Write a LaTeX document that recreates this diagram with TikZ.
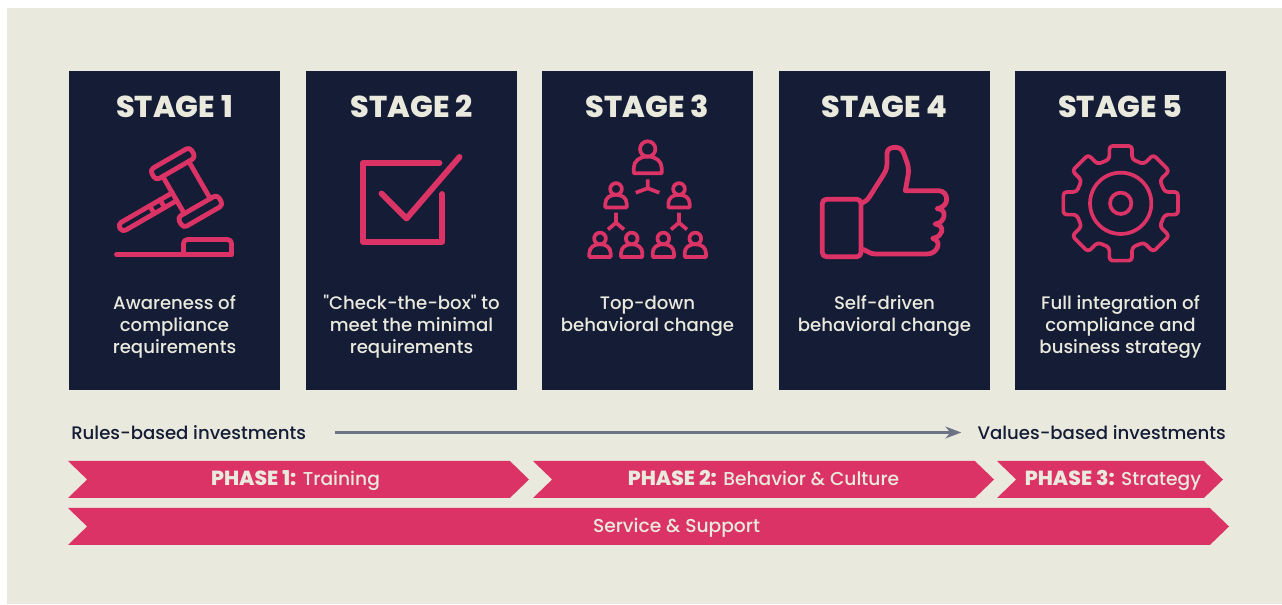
\documentclass[tikz,border=0pt]{standalone}
\usepackage{fontspec}
\setmainfont{Poppins}
\newfontfamily\mediumfont{Poppins Medium}
\newfontfamily\heavyfont{Poppins ExtraBold}
\usetikzlibrary{positioning}
\usetikzlibrary{arrows.meta}
\usetikzlibrary{shapes.symbols}

\definecolor{paper}{HTML}{E9E9DD}
\definecolor{navy}{HTML}{141C36}
\definecolor{rose}{HTML}{DC3366}
\definecolor{slate}{HTML}{6C7385}

\tikzset{
    stagebox/.style={fill=navy, minimum width=158.25pt, minimum height=239.25pt, inner sep=0pt},
    stagetitle/.style={text=paper, font=\fontsize{22.6}{24}\heavyfont},
    stagetext/.style={text=paper, align=center, anchor=north, inner sep=0pt, font=\fontsize{13.6}{16.5}\mediumfont},
    icon/.style={draw=rose, line width=3.6pt, line join=round, line cap=round},
    thinicon/.style={draw=rose, line width=2.8pt, line join=round},
    ranklabel/.style={text=navy, inner sep=0pt, font=\fontsize{13.6}{16}\mediumfont},
    ribbon/.style={shape=signal, signal from=west, signal to=east, signal pointer angle=88,
        fill=rose, text=paper, inner sep=0pt, minimum height=27.75pt, text height=11.5pt, text depth=3pt,
        font=\fontsize{14}{16}\mediumfont},
}

\newcommand{\personicon}[3]{
    \begin{scope}[shift={(#1,#2)},scale=#3]
        \draw[thinicon] (0,0) circle (7.7);
        \draw[thinicon] (-14,24.3) -- (14,24.3) -- (14,19) .. controls (14,12) and (8,7.5) .. (0,7.5)
            .. controls (-8,7.5) and (-14,12) .. (-14,19) -- cycle;
    \end{scope}
}
\newcommand{\phasehead}[1]{{\fontsize{15.3}{16}\heavyfont #1}}

\begin{document}
\begin{tikzpicture}[x=0.75pt,y=-0.75pt]
        \useasboundingbox (0,0) rectangle (1282,605);
        \fill[paper] (7,8) rectangle (1282,604);

        \foreach \name/\xpos in {1/174.5, 2/411.5, 3/647.5, 4/884.5, 5/1120.5}{
            \node[stagebox] (stage\name) at (\xpos,230.5) {};
            \node[stagetitle] (title\name) at (\xpos,106.5) {STAGE \name};
        }

        \node[stagetext] (text1) at (174.5,295) {Awareness of\\compliance\\requirements};
        \node[stagetext] (text2) at (411.5,295) {"Check-the-box" to\\meet the minimal\\requirements};
        \node[stagetext] (text3) at (647.5,295.5) {Top-down\\behavioral change};
        \node[stagetext] (text4) at (884.5,295) {Self-driven\\behavioral change};
        \node[stagetext] (text5) at (1120.5,295) {Full integration of\\compliance and\\business strategy};

        \begin{scope}[shift={(186.5,187.5)},rotate=30]
            \draw[icon, rounded corners=3pt] (-23,-33.5) rectangle (23,-21.5);
            \draw[icon, rounded corners=3pt] (-23,21.5) rectangle (23,33.5);
            \draw[icon] (-15,-21.5) -- (-15,21.5);
            \draw[icon] (15,-21.5) -- (15,21.5);
            \draw[icon, rounded corners=3pt] (-15,-2.5) -- (-78,-2.5) -- (-78,6.5) -- (-15,6.5);
            \draw[icon] (-41,-2.5) -- (-41,6.5);
            \draw[icon] (-29,-2.5) -- (-29,6.5);
        \end{scope}
        \draw[icon] (116.5,254.5) -- (231.5,254.5);
        \draw[icon, rounded corners=3pt] (183.5,254.5) -- (183.5,239.5) -- (231.5,239.5) -- (231.5,254.5);

        \draw[icon, line width=4.4pt] (439.5,163) -- (363,163) -- (363,242) -- (442,242) -- (442,194);
        \draw[icon, line width=4.4pt] (381.5,193.5) -- (406.5,218.5) -- (459.5,157);

        \personicon{647.7}{149}{1}
        \personicon{616}{189}{0.76}
        \personicon{679}{189}{0.76}
        \personicon{600}{238.5}{0.76}
        \personicon{631.7}{238.5}{0.76}
        \personicon{663.3}{238.5}{0.76}
        \personicon{695.3}{238.5}{0.76}
        \draw[thinicon] (647.7,179.5) -- (647.7,188.3) -- (635.7,192.7);
        \draw[thinicon] (647.7,188.3) -- (659.3,192.7);
        \foreach \xpos in {616,679}{
            \draw[thinicon] (\xpos,212.7) -- (\xpos,222.7) -- (\xpos-8,229.5);
            \draw[thinicon] (\xpos,222.7) -- (\xpos+8,229.5);
        }

        \begin{scope}[shift={(790,120)},scale=1/3]
            \draw[icon, rounded corners=3pt] (97,238) rectangle (213,410);
            \draw[icon] (213,250) .. controls (225,246) and (232,240) .. (240,228)
                -- (280,165) .. controls (290,150) and (291,140) .. (291,125) -- (291,100)
                .. controls (291,86) and (305,82) .. (316,82)
                .. controls (330,82) and (338,90) .. (342,102)
                -- (352,130) .. controls (356,145) and (356,155) .. (354,168) -- (346,212)
                -- (445,212) .. controls (462,212) and (470,225) .. (470,238)
                .. controls (470,250) and (462,262) .. (441,266)
                .. controls (456,266) and (464,275) .. (462,288)
                .. controls (460,300) and (452,310) .. (435,312)
                .. controls (450,314) and (458,322) .. (455,335)
                .. controls (452,345) and (445,352) .. (428,355)
                .. controls (442,360) and (447,368) .. (443,380)
                .. controls (438,395) and (425,402) .. (410,402)
                -- (255,402) .. controls (240,402) and (232,392) .. (213,386);
        \end{scope}

        \begin{scope}[shift={(1120.7,203.3)},scale=1/3]
            \draw[thinicon, rounded corners=2.5pt] (-34,-132)
                \foreach \toothangle in {0,-45,...,-315}{
                    -- ([rotate=\toothangle]-34,-132) -- ([rotate=\toothangle]-34,-172)
                    -- ([rotate=\toothangle]34,-172) -- ([rotate=\toothangle]34,-132)
                } -- cycle;
            \draw[thinicon] (0,0) circle (92);
            \draw[thinicon] (0,0) circle (32);
        \end{scope}

        \node[ranklabel, anchor=west] (rules) at (71,432.5) {Rules-based investments};
        \node[ranklabel, anchor=east] (values) at (1226,432.5) {Values-based investments};
        \draw[-{Stealth[length=12pt,width=9pt]}, slate, line width=1.7pt, shorten <=21.5pt, shorten >=12pt] (rules.east) -- (values.west);

        \node[ribbon, minimum width=345.75pt] (phase1) at (298.5,479.5) {\hspace*{-4.5pt}\phasehead{PHASE 1:} Training};
        \node[ribbon, minimum width=345.75pt] (phase2) at (763.5,479.5) {\phasehead{PHASE 2:} Behavior \& Culture};
        \node[ribbon, minimum width=169.5pt] (phase3) at (1110,479.5) {\hspace*{4.5pt}\phasehead{PHASE 3:} Strategy};
        \node[ribbon, minimum width=870.75pt] (service) at (648.5,526.5) {\hspace*{42pt}Service \& Support};
    \end{tikzpicture}
\end{document}
